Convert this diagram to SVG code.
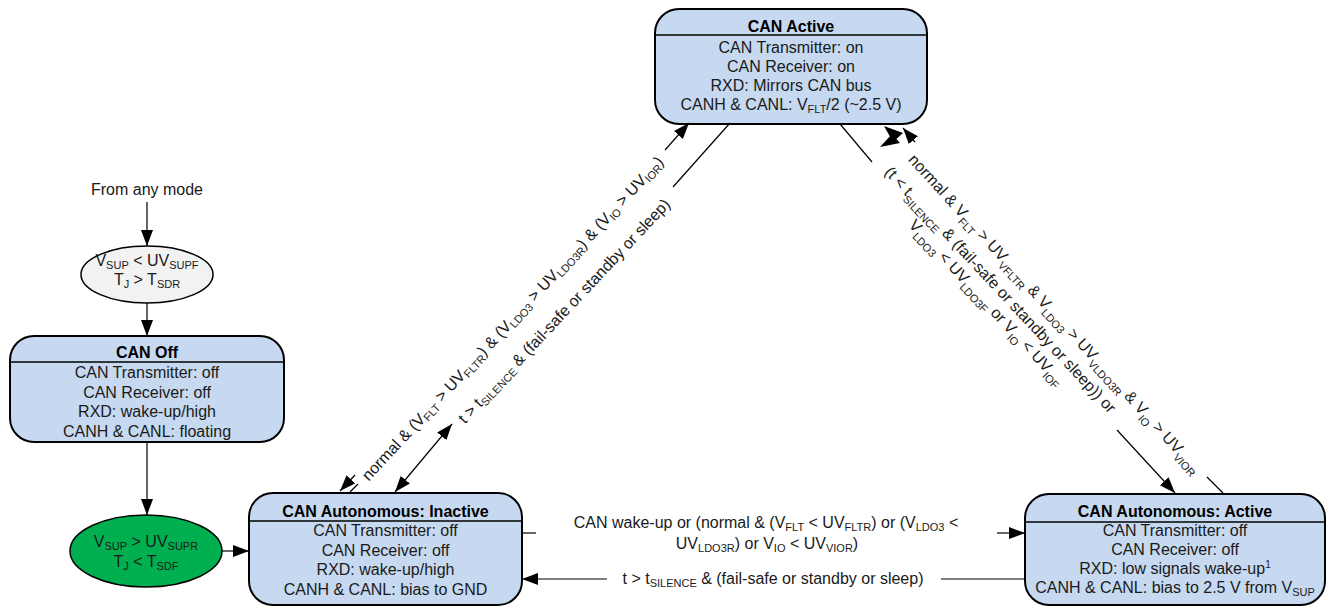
<svg xmlns="http://www.w3.org/2000/svg" width="1335" height="608" viewBox="0 0 1335 608">
<defs>
<marker id="arr" markerUnits="userSpaceOnUse" markerWidth="17" markerHeight="13" refX="16" refY="6" orient="auto-start-reverse">
<path d="M0,0 L16,6 L0,12 z" fill="#000"/>
</marker>
<style>
.t{font-family:"Liberation Sans",Arial,sans-serif;font-size:16px;fill:#1a1a1a;text-anchor:middle}
.b{font-weight:bold;fill:#000}
.s{font-size:11px;baseline-shift:-3px}
.s2{font-size:11px;baseline-shift:-5px}
.sup{font-size:10px;baseline-shift:6px}
.box{fill:#c6d9f0;stroke:#000;stroke-width:2}
.hdr{stroke:#000;stroke-width:1.5}
.ln{stroke:#000;stroke-width:1.2;fill:none}
.arw{stroke:#000;stroke-width:1.2;fill:none;marker-end:url(#arr)}
.arw2{stroke:#000;stroke-width:1.2;fill:none;marker-end:url(#arr);marker-start:url(#arr)}
</style>
</defs>
<rect width="1335" height="608" fill="#fff"/>

<g id="can-active">
<rect class="box" x="655" y="9" width="272" height="115" rx="24"/>
<line class="hdr" x1="655" y1="35" x2="927" y2="35"/>
<text class="t b" x="791" y="32">CAN Active</text>
<text class="t" x="791" y="53">CAN Transmitter: on</text>
<text class="t" x="791" y="72">CAN Receiver: on</text>
<text class="t" x="791" y="91">RXD: Mirrors CAN bus</text>
<text class="t" x="791" y="110">CANH &amp; CANL: V<tspan class="s">FLT</tspan>/2 (~2.5 V)</text>
</g>

<g id="from-any-mode">
<text class="t" x="147" y="195">From any mode</text>
</g>

<g id="supply-fail">
<ellipse cx="147" cy="274.5" rx="66" ry="28.5" fill="#f2f2f2" stroke="#000" stroke-width="1.5"/>
<text class="t" x="147" y="266">V<tspan class="s">SUP</tspan> &lt; UV<tspan class="s">SUPF</tspan></text>
<text class="t" x="147" y="285">T<tspan class="s">J</tspan> &gt; T<tspan class="s">SDR</tspan></text>
</g>

<g id="can-off">
<rect class="box" x="10" y="336" width="274" height="106" rx="24"/>
<line class="hdr" x1="10" y1="362" x2="284" y2="362"/>
<text class="t b" x="147" y="358">CAN Off</text>
<text class="t" x="147" y="378">CAN Transmitter: off</text>
<text class="t" x="147" y="397.5">CAN Receiver: off</text>
<text class="t" x="147" y="417">RXD: wake-up/high</text>
<text class="t" x="147" y="436.5">CANH &amp; CANL: floating</text>
</g>

<g id="supply-ok">
<ellipse cx="146" cy="551" rx="76" ry="36" fill="#00b050" stroke="#000" stroke-width="1.5"/>
<text class="t" x="146" y="547">V<tspan class="s">SUP</tspan> &gt; UV<tspan class="s">SUPR</tspan></text>
<text class="t" x="146" y="567">T<tspan class="s">J</tspan> &lt; T<tspan class="s">SDF</tspan></text>
</g>

<g id="can-auto-inactive">
<rect class="box" x="249" y="493" width="273" height="112" rx="24"/>
<line class="hdr" x1="249" y1="521" x2="522" y2="521"/>
<text class="t b" x="385.5" y="517">CAN Autonomous: Inactive</text>
<text class="t" x="385.5" y="536">CAN Transmitter: off</text>
<text class="t" x="385.5" y="556">CAN Receiver: off</text>
<text class="t" x="385.5" y="575">RXD: wake-up/high</text>
<text class="t" x="385.5" y="595">CANH &amp; CANL: bias to GND</text>
</g>

<g id="can-auto-active">
<rect class="box" x="1025" y="494" width="300" height="111" rx="24"/>
<line class="hdr" x1="1025" y1="522" x2="1325" y2="522"/>
<text class="t b" x="1175" y="517">CAN Autonomous: Active</text>
<text class="t" x="1175" y="536">CAN Transmitter: off</text>
<text class="t" x="1175" y="555">CAN Receiver: off</text>
<text class="t" x="1175" y="574">RXD: low signals wake-up<tspan class="sup">1</tspan></text>
<text class="t" x="1175" y="593">CANH &amp; CANL: bias to 2.5 V from V<tspan class="s">SUP</tspan></text>
</g>

<g id="connectors">
<line class="arw" x1="147" y1="202" x2="147" y2="246"/>
<line class="arw" x1="147" y1="303" x2="147" y2="336"/>
<line class="arw" x1="147" y1="442" x2="147" y2="515"/>
<line class="arw" x1="222" y1="551" x2="249" y2="551"/>

<line class="ln" x1="522" y1="533" x2="536" y2="533"/>
<line class="arw" x1="997" y1="533" x2="1025" y2="533"/>
<text class="t" x="766" y="528">CAN wake-up or (normal &amp; (V<tspan class="s">FLT</tspan> &lt; UV<tspan class="s">FLTR</tspan>) or (V<tspan class="s">LDO3</tspan> &lt;</text>
<text class="t" x="767" y="549">UV<tspan class="s">LDO3R</tspan>) or V<tspan class="s">IO</tspan> &lt; UV<tspan class="s">VIOR</tspan>)</text>
<line class="ln" x1="1025" y1="579" x2="941" y2="579"/>
<line class="arw" x1="607" y1="579" x2="522" y2="579"/>
<text class="t" x="773" y="584">t &gt; t<tspan class="s">SILENCE</tspan> &amp; (fail-safe or standby or sleep)</text>

<line class="ln" x1="350" y1="492" x2="358" y2="484"/>
<line class="arw" x1="355" y1="475" x2="340" y2="491"/>
<line class="arw" x1="665" y1="150" x2="689" y2="123"/>
<text class="t" transform="translate(512.5,318.5) rotate(-47.2)" y="5.5">normal &amp; (V<tspan class="s">FLT</tspan> &gt; UV<tspan class="s">FLTR</tspan>) &amp; (V<tspan class="s">LDO3</tspan> &gt; UV<tspan class="s">LDO3R</tspan>) &amp; (V<tspan class="s">IO</tspan> &gt; UV<tspan class="s">IOR</tspan>)</text>

<line class="ln" x1="730" y1="123" x2="673" y2="187"/>
<line class="arw2" x1="452" y1="424" x2="395" y2="492"/>
<text class="t" transform="translate(564,311) rotate(-46.8)" y="5.5">t &gt; t<tspan class="s">SILENCE</tspan> &amp; (fail-safe or standby or sleep)</text>

<line class="ln" x1="840" y1="124" x2="872" y2="162"/>
<line class="arw" x1="1117" y1="430" x2="1175" y2="493"/>
<text class="t" transform="translate(993.75,296) rotate(47)"><tspan x="0" y="-3.75">(t &lt; t<tspan class="s2">SILENCE</tspan> &amp; (fail-safe or standby or sleep)) or</tspan><tspan x="0" y="14.75">V<tspan class="s2">LDO3</tspan> &lt; UV<tspan class="s2">LDO3F</tspan> or V<tspan class="s2">IO</tspan> &lt; UV<tspan class="s2">IOF</tspan></tspan></text>

<line class="ln" x1="1223" y1="493" x2="1207" y2="477"/>
<line class="arw" x1="915" y1="142" x2="903" y2="128"/>
<polygon points="884,126 903,133 893,142" fill="#000"/>
<polygon points="880,147 892,134 900,143" fill="#000"/>
<text class="t" transform="translate(1055,313.5) rotate(47.6)" y="5.5">normal &amp; V<tspan class="s2">FLT</tspan> &gt; UV<tspan class="s2">VFLTR</tspan> &amp; V<tspan class="s2">LDO3</tspan> &gt; UV<tspan class="s2">VLDO3R</tspan> &amp; V<tspan class="s2">IO</tspan> &gt; UV<tspan class="s2">VIOR</tspan></text>
</g>
</svg>
